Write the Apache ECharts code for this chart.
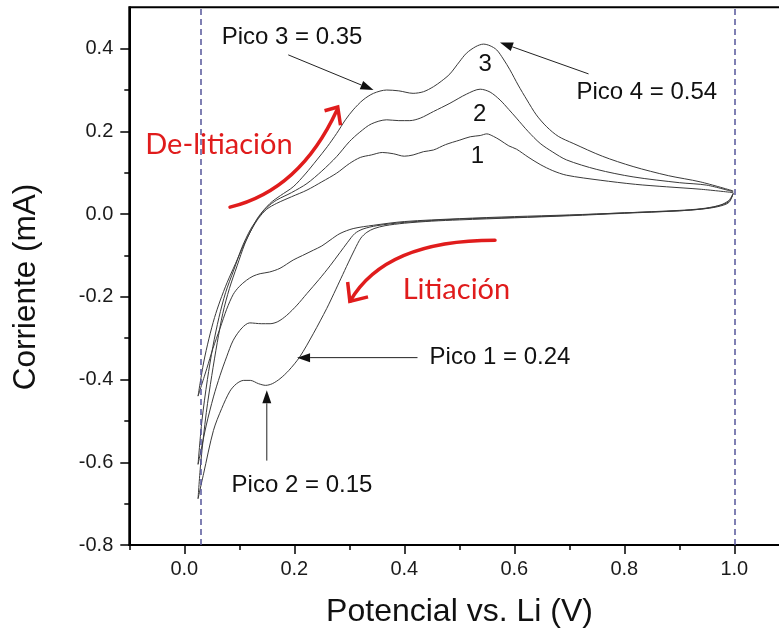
<!DOCTYPE html>
<html><head><meta charset="utf-8">
<script src="https://cdn.jsdelivr.net/npm/echarts@6/dist/echarts.min.js"></script>
<style>html,body{margin:0;padding:0;background:#fff}#c{width:779px;height:633px}</style>
</head><body><div id="c"></div>
<script>
// ---- axis ticks ----
const xMajor = [0, 0.2, 0.4, 0.6, 0.8, 1.0];
const xMinor = [-0.1, 0.1, 0.3, 0.5, 0.7, 0.9, 1.1];
const yMajor = [-0.8, -0.6, -0.4, -0.2, 0, 0.2, 0.4];
const yMinor = [-0.7, -0.5, -0.3, -0.1, 0.1, 0.3];
const vLimits = [0.025, 1.0];

// ---- cathodic sweeps (litiación), [V, mA] ----
const cat1 = [[0.998,0.05],[0.99,0.028],[0.97,0.018],[0.94,0.012],[0.9,0.008],[0.8,0.003],[0.7,-0.002],[0.6,-0.006],[0.5,-0.011],[0.4,-0.018],[0.344,-0.027],[0.307,-0.035],[0.283,-0.047],[0.265,-0.063],[0.25,-0.077],[0.235,-0.087],[0.215,-0.1],[0.198,-0.111],[0.174,-0.131],[0.155,-0.14],[0.138,-0.144],[0.125,-0.15],[0.113,-0.16],[0.1,-0.175],[0.089,-0.194],[0.077,-0.23],[0.065,-0.276],[0.052,-0.325],[0.041,-0.373],[0.025,-0.44]];
const cat2 = [[0.998,0.05],[0.99,0.03],[0.97,0.02],[0.94,0.013],[0.9,0.009],[0.8,0.003],[0.7,-0.003],[0.6,-0.008],[0.5,-0.012],[0.4,-0.02],[0.35,-0.028],[0.325,-0.036],[0.31,-0.047],[0.297,-0.068],[0.283,-0.093],[0.265,-0.125],[0.245,-0.158],[0.223,-0.192],[0.205,-0.22],[0.186,-0.245],[0.17,-0.26],[0.156,-0.265],[0.14,-0.265],[0.119,-0.263],[0.105,-0.275],[0.089,-0.305],[0.077,-0.345],[0.065,-0.39],[0.053,-0.442],[0.04,-0.51],[0.029,-0.58],[0.025,-0.605]];
const cat3 = [[0.998,0.05],[0.99,0.033],[0.975,0.022],[0.95,0.014],[0.9,0.008],[0.8,0.002],[0.7,-0.004],[0.6,-0.009],[0.5,-0.014],[0.45,-0.017],[0.4,-0.022],[0.365,-0.028],[0.345,-0.035],[0.332,-0.044],[0.321,-0.058],[0.31,-0.085],[0.298,-0.118],[0.285,-0.155],[0.272,-0.192],[0.259,-0.228],[0.235,-0.288],[0.21,-0.345],[0.19,-0.378],[0.174,-0.398],[0.16,-0.41],[0.148,-0.414],[0.135,-0.41],[0.12,-0.402],[0.108,-0.402],[0.095,-0.41],[0.083,-0.428],[0.068,-0.47],[0.053,-0.523],[0.035,-0.628],[0.025,-0.688]];

// ---- anodic sweeps (de-litiación), [V, mA] ----
const an1 = [[0.025,-0.44],[0.035,-0.36],[0.045,-0.3],[0.055,-0.25],[0.065,-0.21],[0.078,-0.165],[0.093,-0.12],[0.108,-0.075],[0.122,-0.038],[0.135,-0.01],[0.15,0.012],[0.168,0.026],[0.195,0.042],[0.223,0.058],[0.25,0.078],[0.277,0.099],[0.3,0.122],[0.32,0.137],[0.34,0.143],[0.36,0.149],[0.38,0.146],[0.4,0.14],[0.416,0.143],[0.435,0.151],[0.453,0.155],[0.475,0.168],[0.501,0.179],[0.52,0.187],[0.538,0.19],[0.55,0.194],[0.562,0.188],[0.574,0.179],[0.59,0.165],[0.604,0.157],[0.625,0.138],[0.647,0.12],[0.67,0.105],[0.695,0.094],[0.756,0.082],[0.82,0.072],[0.877,0.066],[0.94,0.06],[0.998,0.052]];
const an2 = [[0.025,-0.605],[0.032,-0.5],[0.042,-0.4],[0.052,-0.32],[0.063,-0.25],[0.075,-0.19],[0.09,-0.135],[0.105,-0.08],[0.12,-0.038],[0.135,-0.008],[0.15,0.016],[0.168,0.034],[0.195,0.052],[0.223,0.074],[0.25,0.104],[0.277,0.139],[0.3,0.175],[0.319,0.198],[0.34,0.218],[0.368,0.228],[0.39,0.226],[0.41,0.226],[0.429,0.232],[0.453,0.248],[0.483,0.268],[0.513,0.29],[0.538,0.302],[0.556,0.295],[0.574,0.276],[0.59,0.253],[0.604,0.232],[0.625,0.2],[0.647,0.171],[0.67,0.15],[0.695,0.131],[0.75,0.108],[0.816,0.09],[0.9,0.076],[0.95,0.07],[0.998,0.054]];
const an3 = [[0.025,-0.688],[0.03,-0.6],[0.04,-0.48],[0.05,-0.39],[0.06,-0.31],[0.07,-0.24],[0.082,-0.18],[0.096,-0.125],[0.11,-0.072],[0.123,-0.035],[0.135,-0.006],[0.156,0.026],[0.175,0.045],[0.198,0.066],[0.22,0.097],[0.241,0.131],[0.26,0.163],[0.277,0.195],[0.293,0.228],[0.307,0.252],[0.325,0.276],[0.344,0.292],[0.368,0.3],[0.39,0.298],[0.416,0.292],[0.435,0.296],[0.453,0.308],[0.468,0.322],[0.483,0.339],[0.5,0.368],[0.513,0.389],[0.53,0.405],[0.544,0.411],[0.556,0.407],[0.568,0.397],[0.58,0.375],[0.592,0.349],[0.607,0.312],[0.623,0.276],[0.64,0.24],[0.659,0.211],[0.68,0.188],[0.707,0.171],[0.76,0.14],[0.816,0.115],[0.88,0.093],[0.938,0.078],[0.998,0.056]];

// ---- annotations (data coordinates) ----
const peakTexts = ['Pico 3 = 0.35', 'Pico 4 = 0.54', 'Pico 1 = 0.24', 'Pico 2 = 0.15'];
const peakTextPos = [[0.068, 0.427], [0.713, 0.295], [0.446, -0.347], [0.086, -0.656]];
const peakArrowFrom = [[0.189, 0.385], [0.735, 0.339], [0.424, -0.347], [0.150, -0.596]];
const peakArrowTo = [[0.344, 0.300], [0.574, 0.415], [0.205, -0.347], [0.150, -0.426]];
const cycleTexts = ['3', '2', '1'];
const cycleTextPos = [[0.547, 0.361], [0.537, 0.240], [0.533, 0.139]];
const sweepTexts = ['De-litiación', 'Litiación'];
const sweepTextPos = [[-0.071, 0.169], [0.397, -0.183]];
// curved red arrows: [start, control, end] and arrowhead polyline
const delitArc = [[0.0831, 0.0169], [0.2104, 0.0581], [0.2776, 0.2518]];
const delitHead = [[0.255, 0.250], [0.279, 0.259], [0.284, 0.215]];
const litArc = [[0.5649, -0.063], [0.3649, -0.063], [0.3013, -0.2107]];
const litHead = [[0.297, -0.164], [0.301, -0.211], [0.334, -0.200]];
const xTitle = 'Potencial vs. Li (V)';
const yTitle = 'Corriente (mA)';

const FONT = '"Liberation Sans", Arial, sans-serif';
const RED = '#e01c1c';
const chart = echarts.init(document.getElementById('c'), null, {renderer: 'canvas'});

function valAxis(extra) {
  return Object.assign({
    type: 'value', gridIndex: 0, scale: false,
    axisLine: {show: true, onZero: false, lineStyle: {color: '#000', width: 2}},
    splitLine: {show: false}
  }, extra);
}

const cycleStyle = {color: '#3a3a3a', width: 1};
function cycleSeries(name, c, a) {
  return {name: name, type: 'line', data: c.concat(a), showSymbol: false, symbol: 'none',
    smooth: 0.3, lineStyle: cycleStyle, silent: true, z: 3};
}

chart.setOption({
  animation: false,
  backgroundColor: '#fff',
  grid: {left: 129.3, right: -10.3, top: 7.3, bottom: 88, show: true, borderColor: '#000', borderWidth: 2,
    backgroundColor: 'transparent', containLabel: false, outerBoundsMode: 'none'},
  xAxis: [
    valAxis({position: 'bottom', min: -0.1, max: 1.1, interval: 0.2,
      axisTick: {show: true, inside: false, length: 9, lineStyle: {color: '#000', width: 1.5}, customValues: xMajor},
      axisLabel: {show: true, customValues: xMajor, margin: 14, fontSize: 20, fontFamily: FONT, color: '#1a1a1a',
        formatter: v => v.toFixed(1)}}),
    valAxis({position: 'bottom', offset: 0, min: -0.1, max: 1.1, interval: 0.2,
      axisLine: {show: false, onZero: false},
      axisTick: {show: true, length: 5, lineStyle: {color: '#000', width: 1.5}, customValues: xMinor},
      axisLabel: {show: false}})
  ],
  yAxis: [
    valAxis({position: 'left', min: -0.8, max: 0.5, interval: 0.2,
      axisTick: {show: true, length: 9, lineStyle: {color: '#000', width: 1.5}, customValues: yMajor},
      axisLabel: {show: true, customValues: yMajor, margin: 16, fontSize: 20, fontFamily: FONT, color: '#1a1a1a',
        formatter: v => v.toFixed(1)}}),
    valAxis({position: 'left', offset: 0, min: -0.8, max: 0.5, interval: 0.2,
      axisLine: {show: false, onZero: false},
      axisTick: {show: true, length: 5, lineStyle: {color: '#000', width: 1.5}, customValues: yMinor},
      axisLabel: {show: false}})
  ],
  series: [
    {name: 'guides', type: 'line', data: [], silent: true,
      markLine: {silent: true, symbol: ['none', 'none'], label: {show: false},
        lineStyle: {color: '#56569a', width: 1.5, type: [6, 4]},
        data: vLimits.map(v => ({xAxis: v}))}},
    cycleSeries('Ciclo 1', cat1, an1),
    cycleSeries('Ciclo 2', cat2, an2),
    cycleSeries('Ciclo 3', cat3, an3)
  ]
});

function px(p) { return chart.convertToPixel({xAxisIndex: 0, yAxisIndex: 0}, p); }
function txt(text, pos, size, color, align, family) {
  const p = px(pos);
  return {type: 'text', x: p[0], y: p[1], z: 10, silent: true,
    style: {text: text, font: size + 'px ' + (family || FONT), fill: color,
      align: align, textAlign: align, verticalAlign: 'middle', textVerticalAlign: 'middle'}};
}
function arc(pts) {
  const a = px(pts[0]), c = px(pts[1]), b = px(pts[2]);
  return {type: 'bezierCurve', silent: true, z: 8,
    shape: {x1: a[0], y1: a[1], cpx1: c[0], cpy1: c[1], x2: b[0], y2: b[1]},
    style: {stroke: RED, lineWidth: 3.5, fill: null, lineCap: 'round'}};
}
function head(pts) {
  return {type: 'polyline', silent: true, z: 8, shape: {points: pts.map(px)},
    style: {stroke: RED, lineWidth: 3.5, fill: null, lineJoin: 'miter', lineCap: 'butt'}};
}
const g = [];
peakTexts.forEach((t, i) => g.push(txt(t, peakTextPos[i], 24, '#111', 'left')));
cycleTexts.forEach((t, i) => g.push(txt(t, cycleTextPos[i], 24, '#111', 'center')));
sweepTexts.forEach((t, i) => g.push(txt(t, sweepTextPos[i], 29, RED, 'left', 'Lato, "Open Sans", sans-serif')));
g.push(arc(delitArc), head(delitHead), arc(litArc), head(litHead));
peakArrowFrom.forEach((a, i) => {
  const s = px(a), e = px(peakArrowTo[i]);
  const ang = Math.atan2(e[1] - s[1], e[0] - s[0]);
  const L = 13, W = 4.5;
  const bx = e[0] - L * Math.cos(ang), by = e[1] - L * Math.sin(ang);
  const nx = -Math.sin(ang), ny = Math.cos(ang);
  g.push({type: 'line', silent: true, z: 9, shape: {x1: s[0], y1: s[1], x2: bx, y2: by},
    style: {stroke: '#222', lineWidth: 1}});
  g.push({type: 'polygon', silent: true, z: 9,
    shape: {points: [[e[0], e[1]], [bx + W * nx, by + W * ny], [bx - W * nx, by - W * ny]]},
    style: {fill: '#111'}});
});
g.push({type: 'text', x: 459.5, y: 612, silent: true,
  style: {text: xTitle, font: '32px ' + FONT, fill: '#111', align: 'center', textAlign: 'center',
    verticalAlign: 'middle', textVerticalAlign: 'middle'}});
g.push({type: 'text', x: 26, y: 287, rotation: Math.PI / 2, silent: true,
  style: {text: yTitle, font: '31.5px ' + FONT, fill: '#111', align: 'center', textAlign: 'center',
    verticalAlign: 'middle', textVerticalAlign: 'middle'}});
chart.setOption({graphic: {elements: g}});
</script></body></html>
